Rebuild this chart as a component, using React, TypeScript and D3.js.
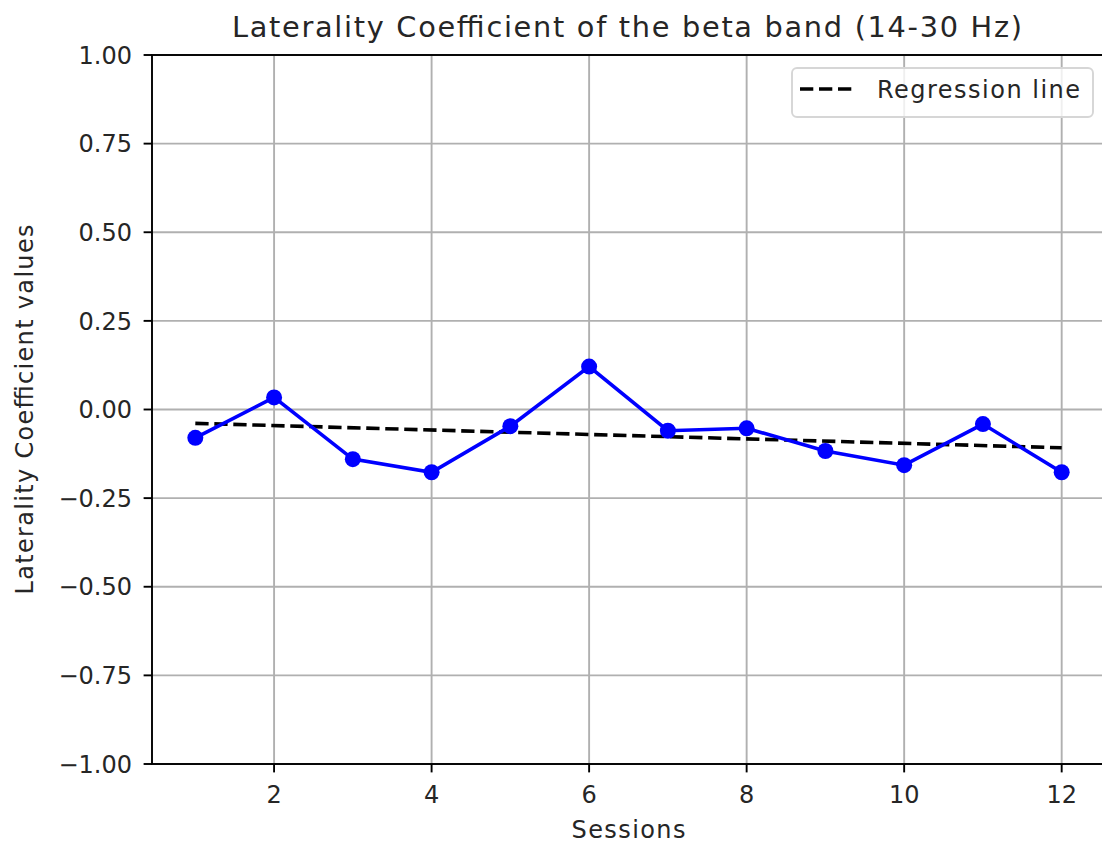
import { useEffect, useRef } from "react";
import { select, scaleLinear, line } from "d3";

const sessions = [1, 2, 3, 4, 5, 6, 7, 8, 9, 10, 11, 12];
const lcValues = [-0.08, 0.034, -0.14, -0.177, -0.047, 0.121, -0.06, -0.053, -0.117, -0.157, -0.041, -0.177];
const regressionX = [1, 12];
const regressionY = [-0.039, -0.108];
const xTicks = [2, 4, 6, 8, 10, 12];
const yTicks = [-1, -0.75, -0.5, -0.25, 0, 0.25, 0.5, 0.75, 1];

const W = 1102;
const H = 848;
const FONT = "DejaVu Sans, sans-serif";

const App = () => {
  const svgRef = useRef<SVGSVGElement>(null);

  useEffect(() => {
    const svg = select(svgRef.current);
    svg.selectAll("*").remove();

    const margin = { left: 152, right: 1105, top: 55, bottom: 764 };

    const x = scaleLinear().domain([0.45, 12.55]).range([margin.left, margin.right]);
    const y = scaleLinear().domain([-1, 1]).range([margin.bottom, margin.top]);

    svg.append("rect").attr("width", W).attr("height", H).attr("fill", "white");

    // grid
    const grid = svg.append("g").attr("stroke", "#b0b0b0").attr("stroke-width", 1.9);
    xTicks.forEach((t) => {
      grid.append("line").attr("x1", x(t)).attr("x2", x(t)).attr("y1", margin.top).attr("y2", margin.bottom);
    });
    yTicks.forEach((t) => {
      grid.append("line").attr("x1", margin.left).attr("x2", margin.right).attr("y1", y(t)).attr("y2", y(t));
    });

    // regression line
    const regData = regressionX.map((d, i) => [d, regressionY[i]] as [number, number]);
    svg
      .append("path")
      .attr("d", line<[number, number]>().x((d) => x(d[0])).y((d) => y(d[1]))(regData))
      .attr("fill", "none")
      .attr("stroke", "black")
      .attr("stroke-width", 3.6)
      .attr("stroke-dasharray", "13.3,5.7");

    // data line
    const pts = sessions.map((s, i) => [s, lcValues[i]] as [number, number]);
    svg
      .append("path")
      .attr("d", line<[number, number]>().x((d) => x(d[0])).y((d) => y(d[1]))(pts))
      .attr("fill", "none")
      .attr("stroke", "#0000ff")
      .attr("stroke-width", 3.6);

    svg
      .selectAll(".pt")
      .data(pts)
      .enter()
      .append("circle")
      .attr("class", "pt")
      .attr("cx", (d) => x(d[0]))
      .attr("cy", (d) => y(d[1]))
      .attr("r", 8)
      .attr("fill", "#0000ff");

    // spines
    const sp = svg.append("g").attr("stroke", "black").attr("stroke-width", 1.9).attr("fill", "none");
    sp.append("rect")
      .attr("x", margin.left)
      .attr("y", margin.top)
      .attr("width", margin.right - margin.left)
      .attr("height", margin.bottom - margin.top);

    // ticks
    xTicks.forEach((t) => {
      sp.append("line").attr("x1", x(t)).attr("x2", x(t)).attr("y1", margin.bottom).attr("y2", margin.bottom + 8.4);
      svg
        .append("text")
        .attr("x", x(t))
        .attr("y", margin.bottom + 39)
        .attr("text-anchor", "middle")
        .attr("font-family", FONT)
        .attr("font-size", 24)
        .attr("fill", "#262626")
        .text(String(t));
    });
    yTicks.forEach((t) => {
      sp.append("line").attr("x1", margin.left - 8.4).attr("x2", margin.left).attr("y1", y(t)).attr("y2", y(t));
      svg
        .append("text")
        .attr("x", margin.left - 20)
        .attr("y", y(t))
        .attr("dy", "0.36em")
        .attr("text-anchor", "end")
        .attr("font-family", FONT)
        .attr("font-size", 24)
        .attr("fill", "#262626")
        .text(t < 0 ? "\u2212" + Math.abs(t).toFixed(2) : t.toFixed(2));
    });

    // labels
    svg
      .append("text")
      .attr("x", (margin.left + margin.right) / 2)
      .attr("y", 838)
      .attr("text-anchor", "middle")
      .attr("font-family", FONT)
      .attr("font-size", 24)
      .attr("textLength", 114)
      .attr("lengthAdjust", "spacing")
      .attr("fill", "#262626")
      .text("Sessions");

    svg
      .append("text")
      .attr("transform", `translate(33,${(margin.top + margin.bottom) / 2}) rotate(-90)`)
      .attr("text-anchor", "middle")
      .attr("font-family", FONT)
      .attr("font-size", 24)
      .attr("textLength", 370)
      .attr("lengthAdjust", "spacing")
      .attr("fill", "#262626")
      .text("Laterality Coefficient values");

    svg
      .append("text")
      .attr("x", 627)
      .attr("y", 37)
      .attr("text-anchor", "middle")
      .attr("font-family", FONT)
      .attr("font-size", 28.8)
      .attr("textLength", 790)
      .attr("lengthAdjust", "spacing")
      .attr("fill", "#262626")
      .text("Laterality Coefficient of the beta band (14-30 Hz)");

    // legend
    const lg = svg.append("g");
    lg.append("rect")
      .attr("x", 792)
      .attr("y", 68)
      .attr("width", 301)
      .attr("height", 49)
      .attr("rx", 5)
      .attr("fill", "white")
      .attr("fill-opacity", 0.8)
      .attr("stroke", "#d6d6d6")
      .attr("stroke-width", 1.9);
    lg.append("line")
      .attr("x1", 800)
      .attr("x2", 854)
      .attr("y1", 89)
      .attr("y2", 89)
      .attr("stroke", "black")
      .attr("stroke-width", 3.6)
      .attr("stroke-dasharray", "13.3,5.7");
    lg.append("text")
      .attr("x", 877)
      .attr("y", 98)
      .attr("font-family", FONT)
      .attr("font-size", 24)
      .attr("textLength", 203)
      .attr("lengthAdjust", "spacing")
      .attr("fill", "#262626")
      .text("Regression line");
  }, []);

  return (
    <svg
      ref={svgRef}
      width={W}
      height={H}
      style={{ position: "absolute", left: 0, top: 0, display: "block" }}
    ></svg>
  );
};

export default App;
